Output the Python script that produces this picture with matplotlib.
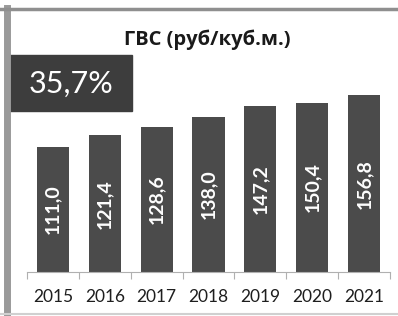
import matplotlib
matplotlib.use("Agg")
import matplotlib.pyplot as plt
from matplotlib.patches import Rectangle
from matplotlib.lines import Line2D

years = ["2015", "2016", "2017", "2018", "2019", "2020", "2021"]
values = [111.0, 121.4, 128.6, 138.0, 147.2, 150.4, 156.8]
title = "ГВС (руб/куб.м.)"
badge = "35,7%"

W, H = 398, 316
fig = plt.figure(figsize=(W / 100, H / 100), dpi=100)
fig.patch.set_facecolor("white")

def fx(px):
    return px / W

def fy(py):
    return 1 - py / H

# axes: x 27..390 px, y top 80 .. baseline 272
ax = fig.add_axes([fx(27), fy(272), fx(390) - fx(27), fy(80) - fy(272)])
ax.set_facecolor("none")
x = list(range(len(years)))
bars = ax.bar(x, values, width=0.62, color="#4b4b4b")
ax.set_xlim(-0.5, 6.5)
ax.set_ylim(0, (272 - 80) / 1.126)
for s in ["top", "right", "left"]:
    ax.spines[s].set_visible(False)
ax.spines["bottom"].set_color("#b0b0b0")
ax.spines["bottom"].set_linewidth(0.8)
ax.set_yticks([])
ax.set_xticks([i - 0.5 for i in range(len(years) + 1)], minor=False)
ax.set_xticklabels([])
ax.tick_params(axis="x", which="major", length=5, color="#b0b0b0", width=0.8)
ax.set_xticks(x, minor=True)
ax.set_xticklabels(years, minor=True, fontsize=12.5, color="#1e1e1e", family="Lato")
ax.tick_params(axis="x", which="minor", length=0, pad=12)

for xi, v in zip(x, values):
    ax.text(xi, v / 2, f"{v:.1f}".replace(".", ","), rotation=90, ha="center",
            va="center", color="white", fontsize=14, family="Lato",
            fontweight="bold")

# title
fig.text(fx(207), fy(40), title, ha="center", va="center", fontsize=14.5,
         fontweight="bold", family="Open Sans", color="#1a1a1a")

# badge
fig.patches.append(Rectangle((fx(10), fy(111)), fx(132) - fx(10), fy(55) - fy(111),
                             transform=fig.transFigure, color="#3d3d3d", zorder=1))
fig.text(fx(71), fy(84), badge, ha="center", va="center", fontsize=22,
         color="white", family="Lato", zorder=2)

# frame borders
fig.add_artist(Line2D([fx(7), fx(7)], [fy(8), fy(316)], transform=fig.transFigure,
                      color="#9a9a9a", lw=5))
fig.add_artist(Line2D([fx(0), fx(398)], [fy(8.5), fy(8.5)], transform=fig.transFigure,
                      color="#8f8f8f", lw=2.5))
fig.add_artist(Line2D([fx(0), fx(398)], [fy(314), fy(314)], transform=fig.transFigure,
                      color="#d0d0d0", lw=1.5))

fig.savefig("out.png", dpi=100, facecolor="white")
